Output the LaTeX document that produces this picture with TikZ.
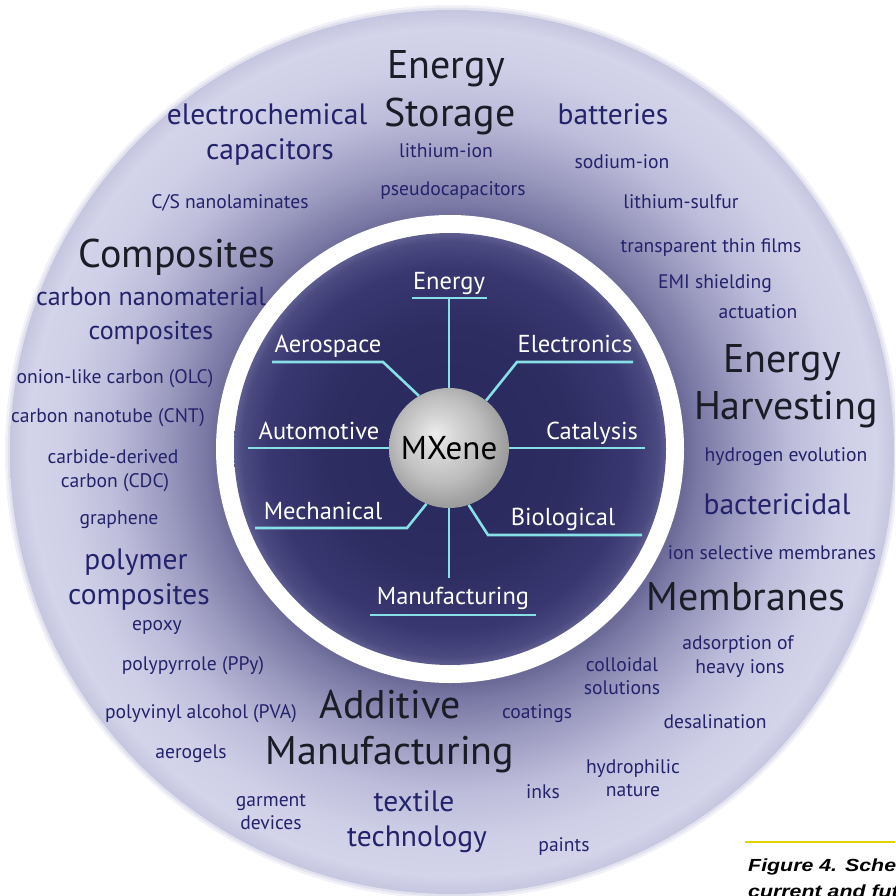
\documentclass[tikz,border=0pt]{standalone}
\usepackage{fontspec}
\setmainfont{PT Sans}
\newfontfamily\capfont{Liberation Sans}

\definecolor{navy}{HTML}{23236C}
\definecolor{headc}{HTML}{1B1C26}
\definecolor{spokec}{HTML}{86E0E6}
\definecolor{capyellow}{HTML}{E2D200}
\definecolor{ringA}{HTML}{6C6A96}
\definecolor{ringB}{HTML}{7C7AA6}
\definecolor{ringC}{HTML}{9C9BC0}
\definecolor{ringD}{HTML}{BDBCDA}
\definecolor{ringE}{HTML}{CFCFE7}
\definecolor{ringF}{HTML}{D3D3EA}
\definecolor{ringG}{HTML}{C6C6E0}
\definecolor{discA}{HTML}{29285B}
\definecolor{discB}{HTML}{2E2D62}
\definecolor{discC}{HTML}{383770}
\definecolor{discD}{HTML}{4A4980}
\definecolor{discE}{HTML}{5E5D90}
\definecolor{sphA}{HTML}{EDEDED}
\definecolor{sphB}{HTML}{D6D6D6}
\definecolor{sphC}{HTML}{BDBDBD}
\definecolor{sphD}{HTML}{A0A0A0}
\definecolor{sphE}{HTML}{8A8A8A}

% radial shadings (the path's radius corresponds to 25bp)
\pgfdeclareradialshading{ringshade}{\pgfpoint{0bp}{0bp}}{%
  color(0bp)=(ringA); color(13.2bp)=(ringA); color(14.1bp)=(ringB);
  color(16.4bp)=(ringC); color(19.2bp)=(ringD); color(22bp)=(ringE);
  color(24bp)=(ringF); color(25bp)=(ringG); color(50bp)=(ringG)}
\pgfdeclareradialshading{discshade}{\pgfpoint{0bp}{0bp}}{%
  color(0bp)=(discA); color(14bp)=(discB); color(21bp)=(discC);
  color(24bp)=(discD); color(25bp)=(discE); color(50bp)=(discE)}
\pgfdeclareradialshading{sphereshade}{\pgfpoint{-6bp}{6bp}}{%
  color(0bp)=(sphA); color(8bp)=(sphB); color(18bp)=(sphC);
  color(26bp)=(sphD); color(34bp)=(sphE); color(50bp)=(sphE)}

\begin{document}
\begin{tikzpicture}[x=1pt,y=-1pt,
  spoke/.style={draw=spokec, line width=2.6pt},
  inlabel/.style={anchor=base, text=white, inner sep=0pt, font=\fontsize{24.5}{24.5}\selectfont},
  head/.style={anchor=base, text=headc, inner sep=0pt, font=\fontsize{40}{40}\selectfont},
  bignavy/.style={anchor=base, text=navy, inner sep=0pt, font=\fontsize{29.5}{29.5}\selectfont},
  midnavy/.style={anchor=base, text=navy, inner sep=0pt, font=\fontsize{26}{26}\selectfont},
  navytxt/.style={anchor=base, text=navy, inner sep=0pt, font=\fontsize{19.6}{19.6}\selectfont},
  captxt/.style={anchor=base west, inner sep=0pt,
    font=\capfont\fontsize{17.5}{17.5}\bfseries\itshape\selectfont}]
\useasboundingbox (0,0) rectangle (895,896);
\clip (0,0) rectangle (895,896);

% outer ring with a soft rim
\fill[ringG, opacity=0.25] (452,452) circle (447pt);
\fill[ringG, opacity=0.35] (452,452) circle (444.5pt);
\shade[shading=ringshade] (452,452) circle (442pt);
% white band and dark inner disc
\fill[white] (450,449) circle (234pt);
\shade[shading=discshade] (450,449) circle (216pt);

% centre sphere
\node[circle, shade, shading=sphereshade, minimum size=120pt, inner sep=0pt,
      text=black, font=\fontsize{33}{33}\selectfont] (mx) at (449,448) {MXene};

% spokes
\coordinate (enU) at (449,298);
\coordinate (enL) at (412,298);
\coordinate (enR) at (487,298);
\draw[spoke] (mx.north) -- (enU);
\draw[spoke] (enL) -- (enR);

\coordinate (elB) at (517,362);
\coordinate (elE) at (633,362);
\draw[spoke] (mx.52) -- (elB) -- (elE);

\coordinate (caE) at (645,448);
\draw[spoke] (mx.east) -- (caE);

\coordinate (biB) at (488,535);
\coordinate (biE) at (642,535);
\draw[spoke] (mx.289) -- (biB) -- (biE);

\coordinate (maD) at (449,578);
\coordinate (maL) at (370,615);
\coordinate (maR) at (536,615);
\draw[spoke] (mx.south) -- (maD);
\draw[spoke] (maL) -- (maR);

\coordinate (meB) at (407,528);
\coordinate (meE) at (255,528);
\draw[spoke] (mx.248) -- (meB) -- (meE);

\coordinate (auE) at (248,448);
\draw[spoke] (mx.west) -- (auE);

\coordinate (aeB) at (383,362);
\coordinate (aeE) at (272,362);
\draw[spoke] (mx.120) -- (aeB) -- (aeE);

% inner labels
\node[inlabel] (lEnergy) at (449,289) {Energy};
\node[inlabel] (lElec) at (575,352) {Electronics};
\node[inlabel] (lCat) at (592,439) {Catalysis};
\node[inlabel] (lBio) at (563,525) {Biological};
\node[inlabel] (lManu) at (453,604) {Manufacturing};
\node[inlabel] (lMech) at (323,519) {Mechanical};
\node[inlabel] (lAuto) at (319,439) {Automotive};
\node[inlabel] (lAero) at (328,352) {Aerospace};

% headings
\node[head] (hES1) at (446,79) {Energy};
\node[head] (hES2) at (450,127) {Storage};
\node[head] (hComp) at (177,267) {Composites};
\node[head] (hEH1) at (782,372) {Energy};
\node[head] (hEH2) at (786,419) {Harvesting};
\node[head] (hMem) at (746,610) {Membranes};
\node[head] (hAM1) at (390,718) {Additive};
\node[head] (hAM2) at (390,764) {Manufacturing};

% larger navy terms
\node[bignavy] (tEC1) at (267,125) {electrochemical};
\node[bignavy] (tEC2) at (270,160) {capacitors};
\node[bignavy] (tBat) at (613,125) {batteries};
\node[midnavy] (tCN1) at (151,305) {carbon nanomaterial};
\node[midnavy] (tCN2) at (151,339) {composites};
\node[bignavy] (tBac) at (777,514) {bactericidal};
\node[bignavy] (tPC1) at (136,569) {polymer};
\node[bignavy] (tPC2) at (139,604) {composites};
\node[bignavy] (tTT1) at (414,811) {textile};
\node[bignavy] (tTT2) at (417,846) {technology};

% smaller navy terms
\node[navytxt] (sLi) at (446,158) {lithium-ion};
\node[navytxt] (sPs) at (453,195) {pseudocapacitors};
\node[navytxt] (sCS) at (230,208) {C/S nanolaminates};
\node[navytxt] (sNa) at (622,168) {sodium-ion};
\node[navytxt] (sLS) at (681,208) {lithium-sulfur};
\node[navytxt] (sTF) at (711,252) {transparent thin films};
\node[navytxt] (sEMI) at (715,288) {EMI shielding};
\node[navytxt] (sAct) at (758,318) {actuation};
\node[navytxt] (sOLC) at (115,383) {onion-like carbon (OLC)};
\node[navytxt] (sCNT) at (108,422) {carbon nanotube (CNT)};
\node[navytxt] (sCD1) at (113,463) {carbide-derived};
\node[navytxt] (sCD2) at (115,487) {carbon (CDC)};
\node[navytxt] (sGr) at (119,524) {graphene};
\node[navytxt] (sHy) at (786,461) {hydrogen evolution};
\node[navytxt] (sIon) at (772,559) {ion selective membranes};
\node[navytxt] (sEp) at (157,630) {epoxy};
\node[navytxt] (sPPy) at (193,670) {polypyrrole (PPy)};
\node[navytxt] (sPVA) at (201,718) {polyvinyl alcohol (PVA)};
\node[navytxt] (sAer) at (191,758) {aerogels};
\node[navytxt] (sGa1) at (271,806) {garment};
\node[navytxt] (sGa2) at (271,829) {devices};
\node[navytxt] (sAd1) at (738,649) {adsorption of};
\node[navytxt] (sAd2) at (740,673) {heavy ions};
\node[navytxt] (sCo1) at (622,671) {colloidal};
\node[navytxt] (sCo2) at (622,694) {solutions};
\node[navytxt] (sCoat) at (537,718) {coatings};
\node[navytxt] (sDes) at (715,728) {desalination};
\node[navytxt] (sHp1) at (633,773) {hydrophilic};
\node[navytxt] (sHp2) at (633,796) {nature};
\node[navytxt] (sInk) at (543,798) {inks};
\node[navytxt] (sPai) at (564,851) {paints};

% caption fragment
\coordinate (capL) at (745,842);
\coordinate (capR) at (895,842);
\draw[capyellow, line width=2.4pt] (capL) -- (capR);
\node[captxt] (cap1) at (748,871) {\scalebox{1.22}[1]{Figure 4. Sche}};
\node[captxt] (cap2) at (748,897) {\scalebox{1.22}[1]{current and fut}};
\end{tikzpicture}
\end{document}
